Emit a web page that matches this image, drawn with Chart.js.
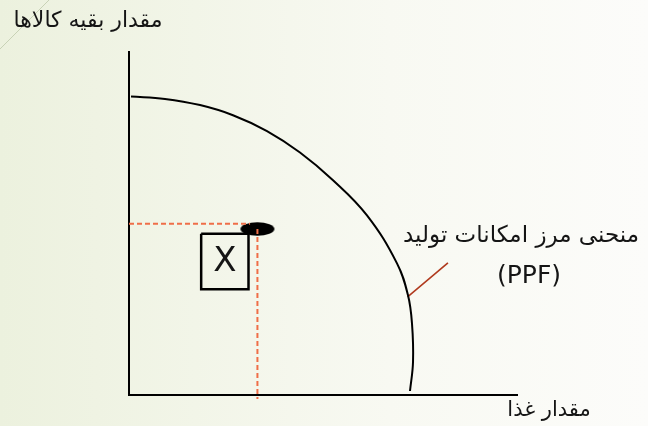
<!DOCTYPE html>
<html>
<head>
<meta charset="utf-8">
<script src="https://cdn.jsdelivr.net/npm/chart.js@4.4.1/dist/chart.umd.min.js"></script>
<style>
html,body{margin:0;padding:0;}
body{width:648px;height:426px;overflow:hidden;background:linear-gradient(to right,#ecf1de 0%,#f2f5e8 30%,#f8f9f2 60%,#fcfcfa 100%);}
#wrap{position:absolute;left:0;top:0;width:648px;height:426px;}
</style>
</head>
<body>
<div id="wrap"><canvas id="c" width="648" height="426"></canvas></div>
<script>
// PPF curve (x = food quantity, y = other goods quantity), axis range 0..100
const curveX = [0.52, 9.28, 18.30, 26.80, 35.57, 44.07, 52.58, 61.34, 69.07, 71.91, 72.94, 73.20, 72.42];
const curveY = [87.03, 86.33, 84.52, 81.57, 76.94, 70.70, 62.62, 52.36, 38.37, 29.07, 20.76, 9.62, 1.17];
// point X (inside the frontier)
const pointX = [33.1];
const pointY = [48.4];
// dashed guide lines
const guideHX = [0, 31.2];
const guideHY = [49.9, 49.9];
const guideVX = [33.1, 33.1];
const guideVY = [48.4, -1.2];
// box around the label X
const boxX = [18.6, 30.8, 30.8, 18.6, 18.6];
const boxY = [47.0, 47.0, 30.8, 30.8, 47.0];
// pointer from PPF label to curve
const pointerX = [82.2, 71.8];
const pointerY = [38.5, 28.6];

const yTitle = 'مقدار بقیه کالاها';
const xTitle = 'مقدار غذا';
const curveLabel1 = 'منحنی مرز امکانات تولید';
const curveLabel2 = '(PPF)';
const boxLabel = 'X';

const zip = (xs, ys) => xs.map((x, i) => ({x: x, y: ys[i]}));

// ellipse marker
const mk = document.createElement('canvas');
mk.width = 36; mk.height = 16;
(function(){
  const g = mk.getContext('2d');
  g.fillStyle = '#000';
  g.beginPath();
  g.ellipse(18, 8, 17, 6.8, 0, 0, Math.PI * 2);
  g.fill();
})();

const FONT = '"DejaVu Sans", "Noto Sans", sans-serif';

const decor = {
  id: 'decor',
  beforeDraw(chart) {
    const ctx = chart.ctx;
    ctx.save();
    ctx.strokeStyle = '#c8d2b6';
    ctx.lineWidth = 1;
    ctx.beginPath();
    ctx.moveTo(0, 49);
    ctx.lineTo(49, 0);
    ctx.stroke();
    ctx.restore();
  },
  afterDraw(chart) {
    const ctx = chart.ctx;
    const xs = chart.scales.x, ys = chart.scales.y;
    ctx.save();
    ctx.fillStyle = '#151515';
    ctx.textAlign = 'center';
    ctx.textBaseline = 'middle';
    ctx.direction = 'rtl';
    ctx.font = '22px ' + FONT;
    ctx.fillText(yTitle, 88, 21);
    ctx.font = '21px ' + FONT;
    ctx.fillText(xTitle, 549, 411);
    ctx.font = '23px ' + FONT;
    ctx.fillText(curveLabel1, 521, 236);
    ctx.direction = 'ltr';
    ctx.font = '25px ' + FONT;
    ctx.fillText(curveLabel2, 529, 276);
    ctx.font = '34px ' + FONT;
    const cx = xs.getPixelForValue((boxX[0] + boxX[1]) / 2);
    const cy = ys.getPixelForValue((boxY[0] + boxY[2]) / 2);
    ctx.fillText(boxLabel, cx, cy + 1);
    ctx.restore();
  }
};

new Chart(document.getElementById('c'), {
  type: 'scatter',
  data: {
    datasets: [
      {data: zip(guideHX, guideHY), showLine: true, borderColor: '#ef6e48', borderWidth: 2, borderDash: [5, 3], pointRadius: 0, clip: false},
      {data: zip(guideVX, guideVY), showLine: true, borderColor: '#ef6e48', borderWidth: 2, borderDash: [5, 3], pointRadius: 0, clip: false},
      {data: zip(curveX, curveY), showLine: true, borderColor: '#000', borderWidth: 2, tension: 0.4, pointRadius: 0, clip: false},
      {data: zip(boxX, boxY), showLine: true, borderColor: '#000', borderWidth: 2.5, tension: 0, pointRadius: 0, clip: false},
      {data: zip(pointerX, pointerY), showLine: true, borderColor: '#b03a1e', borderWidth: 1.6, pointRadius: 0, clip: false},
      {data: zip(pointX, pointY), pointStyle: mk, pointRadius: 10, clip: false}
    ]
  },
  options: {
    responsive: false,
    animation: false,
    devicePixelRatio: 1,
    layout: {padding: {left: 129, right: 131, top: 52, bottom: 31}},
    plugins: {legend: {display: false}, tooltip: {enabled: false}},
    events: [],
    scales: {
      x: {type: 'linear', min: 0, max: 100,
          grid: {display: false, drawTicks: false},
          ticks: {display: false},
          border: {display: true, color: '#000', width: 2}},
      y: {type: 'linear', min: 0, max: 100,
          grid: {display: false, drawTicks: false},
          ticks: {display: false},
          border: {display: true, color: '#000', width: 2}}
    }
  },
  plugins: [decor]
});
</script>
</body>
</html>
